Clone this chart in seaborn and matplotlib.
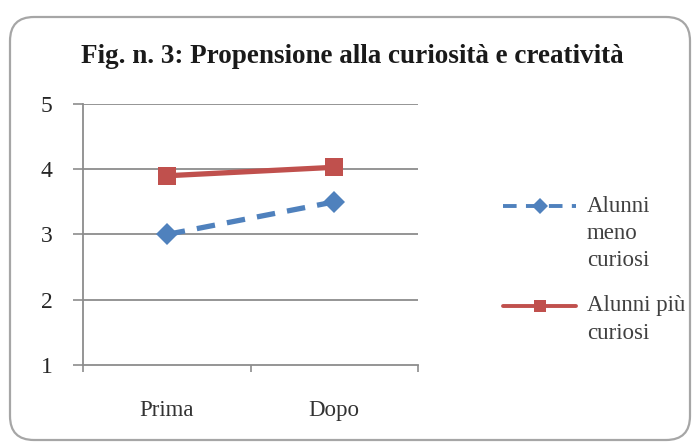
import matplotlib
matplotlib.use("Agg")
import matplotlib.pyplot as plt
from matplotlib.patches import FancyBboxPatch
from matplotlib.lines import Line2D
from matplotlib.transforms import IdentityTransform
import numpy as np
import seaborn as sns
import pandas as pd

# Data
phases = ["Prima", "Dopo"]
meno_curiosi = [3.0, 3.5]
piu_curiosi = [3.9, 4.03]
series_names = ["Alunni\nmeno\ncuriosi", "Alunni più\ncuriosi"]
y_ticks = [1, 2, 3, 4, 5]
title = "Fig. n. 3: Propensione alla curiosità e creatività"

BLUE = "#4F81BD"
RED = "#C0504D"
GRID = "#8c8c8c"

sns.set_theme(style="white")
plt.rcParams["font.family"] = ["Liberation Serif", "DejaVu Serif"]

df = pd.DataFrame({
    "fase": phases * 2,
    "valore": meno_curiosi + piu_curiosi,
    "gruppo": [series_names[0]] * 2 + [series_names[1]] * 2,
})

fig = plt.figure(figsize=(6.96, 4.45), dpi=100)
fig.patch.set_facecolor("white")

# rounded frame around the whole chart (pixel coordinates)
frame = FancyBboxPatch((10, 5), 680, 423,
                       boxstyle="round,pad=0,rounding_size=24",
                       transform=IdentityTransform(), facecolor="white",
                       edgecolor="#a6a6a6", linewidth=1.6, zorder=-10)
fig.patches.append(frame)

ax = fig.add_axes([0.1193, 0.1798, 0.4813, 0.5865])
ax.set_facecolor("none")

sns.lineplot(data=df[df.gruppo == series_names[0]], x="fase", y="valore",
             ax=ax, color=BLUE, linewidth=3.8, linestyle=(0, (3.5, 2.3)),
             marker="D", markersize=11, markeredgewidth=0, legend=False,
             sort=False, zorder=3)
sns.lineplot(data=df[df.gruppo == series_names[1]], x="fase", y="valore",
             ax=ax, color=RED, linewidth=3.8, marker="s", markersize=13,
             markeredgewidth=0, legend=False, sort=False, zorder=4)

ax.set_xlim(-0.5, 1.5)
ax.set_ylim(1, 5)
ax.set_yticks(y_ticks)
ax.set_yticklabels([str(t) for t in y_ticks])
ax.set_xticks([0, 1])
ax.set_xticklabels(phases)
ax.set_xticks([-0.5, 0.5, 1.5], minor=True)
ax.set_xlabel("")
ax.set_ylabel("")

for y in y_ticks[1:]:
    ax.axhline(y, color=GRID, linewidth=1.3, zorder=1)

for s in ["top", "right"]:
    ax.spines[s].set_visible(False)
for s in ["left", "bottom"]:
    ax.spines[s].set_color(GRID)
    ax.spines[s].set_linewidth(1.3)

ax.tick_params(axis="y", which="major", left=True, length=7, width=1.2,
               color=GRID, pad=15, labelsize=17, labelcolor="#262626")
ax.tick_params(axis="x", which="major", bottom=False, length=0, pad=25,
               labelsize=16.5, labelcolor="#333333")
ax.tick_params(axis="x", which="minor", bottom=True, length=5, width=1.2,
               color=GRID)

fig.text(0.506, 0.874, title, ha="center", va="center", fontsize=19.5,
         fontweight="bold", color="#1a1a1a")

# legend: handle aligned with the first line of each label
LEG_FS = 16.5
LEG_LS = 1.4
handles = [
    Line2D([], [], color=BLUE, linewidth=2.8, linestyle=(0, (3.5, 2.4)),
           marker="D", markersize=8, markeredgewidth=0),
    Line2D([], [], color=RED, linewidth=2.8, marker="s", markersize=9,
           markeredgewidth=0),
]
leg = fig.legend(handles, series_names, loc="upper left",
                 bbox_to_anchor=(0.693, 0.607), frameon=False, fontsize=LEG_FS,
                 handlelength=3.2, handletextpad=0.47, labelspacing=1.05,
                 labelcolor="#404040")
for txt in leg.get_texts():
    txt.set_linespacing(LEG_LS)

# distance between consecutive text lines, in points
renderer = fig.canvas.get_renderer()
probe1 = fig.text(0, 0, "Ap", fontsize=LEG_FS, linespacing=LEG_LS)
probe2 = fig.text(0, 0, "Ap\nAp", fontsize=LEG_FS, linespacing=LEG_LS)
pitch_px = (probe2.get_window_extent(renderer).height
            - probe1.get_window_extent(renderer).height)
probe1.remove()
probe2.remove()
pitch_pt = pitch_px * 72.0 / fig.dpi

for h, label in zip(leg.legend_handles, series_names):
    n = label.count("\n") + 1
    shift = (n - 1) / 2 * pitch_pt
    h.set_ydata(np.asarray(h.get_ydata(), dtype=float) + shift)

fig.savefig("out.png", dpi=100, facecolor="white")
